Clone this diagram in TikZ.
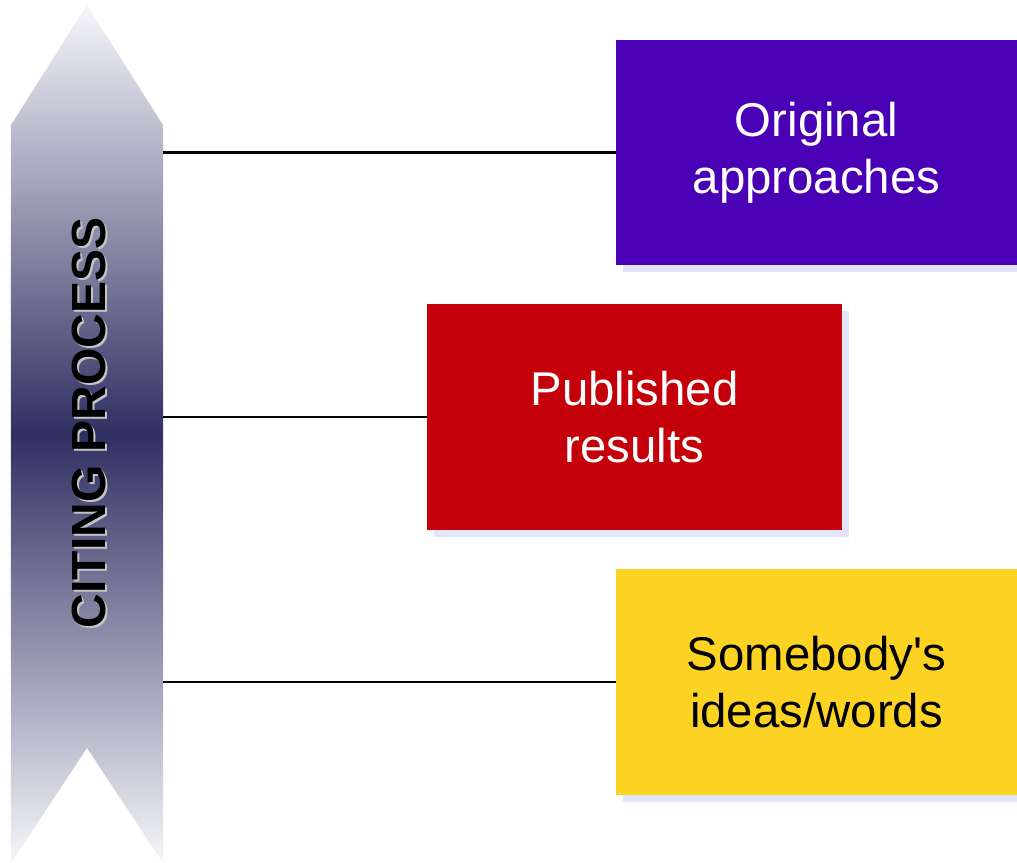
\documentclass[tikz,border=0pt]{standalone}
\usepackage{fontspec}
\setsansfont{Liberation Sans}
\usetikzlibrary{shadows}
\definecolor{arrowend}{HTML}{F6F6FA}
\definecolor{arrowmid}{HTML}{303062}
\definecolor{approachcol}{HTML}{4A00B4}
\definecolor{resultcol}{HTML}{C4000A}
\definecolor{ideacol}{HTML}{FDD323}
\definecolor{boxshadow}{HTML}{E4E4F8}
\definecolor{textshadow}{HTML}{C4C4C8}
\tikzset{
  citebox/.style={rectangle, inner sep=0pt, align=center,
    font=\sffamily\fontsize{33.7}{40.5}\selectfont,
    drop shadow={shadow xshift=0.175cm, shadow yshift=-0.175cm, fill=boxshadow, opacity=1}},
  link/.style={line width=1.5pt, black}
}
\begin{document}
\begin{tikzpicture}
\useasboundingbox (0,0) rectangle (25.425,21.575);

% shaded arrow
\shade[top color=arrowend, bottom color=arrowend, middle color=arrowmid]
  (2.175,21.45) -- (4.075,18.45) -- (4.075,0) -- (2.175,2.875) -- (0.275,0) -- (0.275,18.45) -- cycle;
\draw (2.275,10.95) node[rotate=90, textshadow, font=\sffamily\bfseries\fontsize{34.1}{40}\selectfont] {CITING PROCESS};
\draw (2.225,11.0) node[rotate=90, black, font=\sffamily\bfseries\fontsize{34.1}{40}\selectfont] (label) {CITING PROCESS};

% boxes
\draw (20.4125,17.7625) node[citebox, fill=approachcol, text=white, minimum width=10.025cm, minimum height=5.625cm] (orig) {Original\\ approaches};
\draw (15.8625,11.15) node[citebox, fill=resultcol, text=white, minimum width=10.375cm, minimum height=5.65cm] (pub) {Published\\ results};
\draw (20.4125,4.525) node[citebox, fill=ideacol, text=black, minimum width=10.025cm, minimum height=5.65cm] (idea) {Somebody\textquotesingle s\\ ideas/words};

% links
\coordinate (a1) at (4.075,17.7625);
\coordinate (a2) at (4.075,11.15);
\coordinate (a3) at (4.075,4.525);
\draw[link] (a1) -- (orig.west);
\draw[link] (a2) -- (pub.west);
\draw[link] (a3) -- (idea.west);
\end{tikzpicture}
\end{document}
